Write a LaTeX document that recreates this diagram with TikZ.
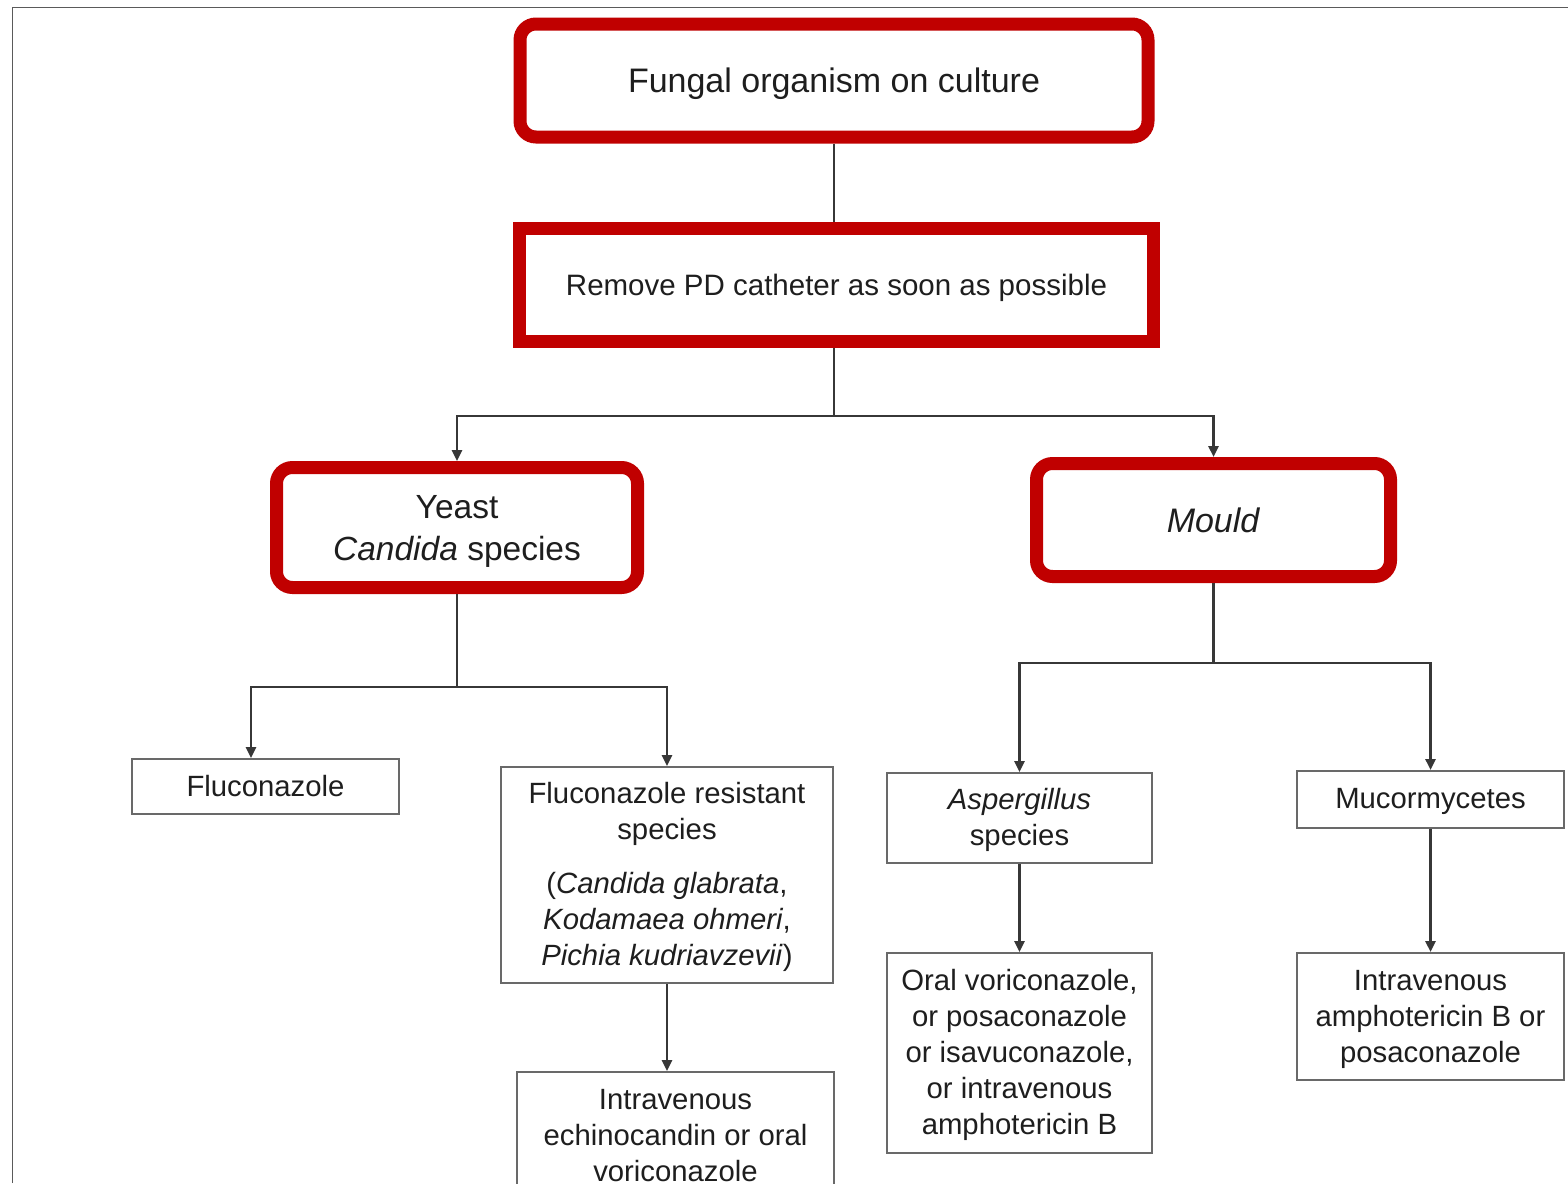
\documentclass[tikz,border=0pt]{standalone}
\usepackage{fontspec}
\setmainfont{Liberation Sans}
\usetikzlibrary{arrows.meta}
\definecolor{boxred}{RGB}{192,0,0}
\definecolor{linegray}{RGB}{55,55,55}
\definecolor{boxgray}{RGB}{105,105,105}
\definecolor{framegray}{RGB}{90,90,90}
\definecolor{txt}{RGB}{30,30,30}
\begin{document}
\begin{tikzpicture}[x=1pt,y=-1pt,
  redround/.style={draw=boxred, line width=13pt, rounded corners=16pt, align=center, text=txt, inner sep=0pt},
  redsharp/.style={draw=boxred, line width=13pt, align=center, text=txt, inner sep=0pt},
  graybox/.style={draw=boxgray, line width=2pt, align=center, text=txt, inner sep=0pt, font=\fontsize{29.3}{36}\selectfont},
  conn/.style={draw=linegray, line width=2.5pt},
  arr/.style={conn, -{Triangle[length=11pt,width=10pt]}}
]
\useasboundingbox (0,0) rectangle (1568,1183);
\fill[white] (0,0) rectangle (1568,1183);
\clip (0,0) rectangle (1568,1183);

% frame
\draw[draw=framegray, line width=1.5pt] (12.5,1183) -- (12.5,7.5) -- (1568,7.5);

% red boxes
\node[redround, minimum width=628pt, minimum height=113pt, text depth=-3pt, font=\fontsize{34}{40}\selectfont] (fung) at (834,80.5) {Fungal organism on culture};
\node[redsharp, minimum width=634pt, minimum height=113pt, text depth=-2pt, font=\fontsize{29.5}{36}\selectfont] (remove) at (836.5,285) {Remove PD catheter as soon as possible};
\node[redround, minimum width=361pt, minimum height=120pt, text depth=-7pt, font=\fontsize{33.5}{42}\selectfont] (yeast) at (457,527.5) {Yeast\\\textit{Candida} species};
\node[redround, minimum width=354pt, minimum height=113pt, font=\fontsize{34}{40}\selectfont] (mould) at (1213.5,520) {\textit{Mould}};

% gray boxes
\node[graybox, minimum width=267pt, minimum height=55pt] (flu) at (265.5,786.5) {Fluconazole};
\node[graybox, minimum width=332pt, minimum height=216pt, text depth=2pt] (fr) at (667,875) {Fluconazole resistant\\species\\[18pt](\textit{Candida glabrata},\\\textit{Kodamaea ohmeri},\\\textit{Pichia kudriavzevii})};
\node[graybox, minimum width=317pt, minimum height=128pt] (ive) at (675.5,1136) {Intravenous\\echinocandin or oral\\voriconazole};
\node[graybox, minimum width=265pt, minimum height=90pt, text depth=2pt] (asp) at (1019.5,818) {\textit{Aspergillus}\\species};
\node[graybox, minimum width=265pt, minimum height=200pt, text depth=3pt] (oral) at (1019.5,1053) {Oral voriconazole,\\or posaconazole\\or isavuconazole,\\or intravenous\\amphotericin B};
\node[graybox, minimum width=267pt, minimum height=57pt, text depth=3pt] (muc) at (1430.5,799.5) {Mucormycetes};
\node[graybox, minimum width=267pt, minimum height=127pt, text depth=1pt] (iva) at (1430.5,1016.5) {Intravenous\\amphotericin B or\\posaconazole};

% junctions
\coordinate (j1) at (834,416);
\coordinate (j2) at (457,687);
\coordinate (j3) at (1213.5,663);

% connectors
\draw[conn] (fung.south) -- (fung.south |- remove.north);
\draw[conn] (remove.south -| j1) -- (j1);
\draw[arr] (j1) -| (yeast.north);
\draw[arr] (j1) -| (mould.north);

\draw[conn] (yeast.south) -- (j2);
\draw[arr] (j2) -| ([xshift=-14.5pt]flu.north);
\draw[arr] (j2) -| (fr.north);
\draw[arr] (fr.south) -- (fr.south |- ive.north);

\draw[conn] (mould.south) -- (j3);
\draw[arr] (j3) -| (asp.north);
\draw[arr] (j3) -| (muc.north);
\draw[arr] (asp.south) -- (oral.north);
\draw[arr] (muc.south) -- (iva.north);
\end{tikzpicture}
\end{document}
